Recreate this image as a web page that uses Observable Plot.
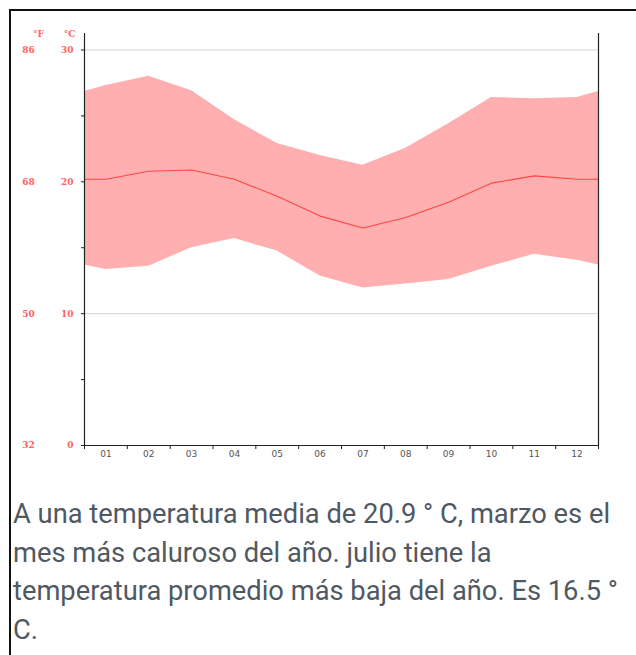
<!DOCTYPE html>
<html>
<head>
<meta charset="utf-8">
<script src="https://cdn.jsdelivr.net/npm/d3@7"></script>
<script src="https://cdn.jsdelivr.net/npm/@observablehq/plot@0.6"></script>
<style>
  html, body { margin: 0; padding: 0; background: #fff; width: 636px; height: 655px; overflow: hidden; }
  #frame { position: absolute; left: 9px; top: 9px; width: 640px; height: 660px;
           border-top: 2px solid #111; border-left: 2px solid #111; }
  #chart { position: absolute; left: 0; top: 0; }
  #caption { position: absolute; left: 13px; top: 495px; width: 620px; margin: 0; white-space: nowrap;
             font-family: Roboto, sans-serif; font-size: 27.3px; line-height: 38.5px; color: #505862; }
</style>
</head>
<body>
<div id="frame"></div>
<div id="chart"></div>
<p id="caption">A una temperatura media de 20.9 ° C, marzo es el<br>mes más caluroso del año. julio tiene la<br>temperatura promedio más baja del año. Es 16.5 °<br>C.</p>
<script>
// Monthly climate values (°C)
const months = [1,2,3,4,5,6,7,8,9,10,11,12];
const monthLabels = ["01","02","03","04","05","06","07","08","09","10","11","12"];
const tMax  = [27.3, 28.0, 26.9, 24.7, 22.9, 22.0, 21.25, 22.55, 24.4, 26.4, 26.3, 26.4];
const tMean = [20.2, 20.8, 20.9, 20.2, 18.9, 17.4, 16.5, 17.3, 18.45, 19.9, 20.45, 20.2];
const tMin  = [13.35, 13.6, 15.0, 15.7, 14.75, 12.85, 11.95, 12.25, 12.6, 13.6, 14.5, 14.05];
const yLabeledTicks = [0, 10, 20, 30];
const yMinorTicks = [5, 15, 25];
const yTop = 31.25;

// Build the series; the curve is extended to the plot edges with the
// Dec/Jan average (wrapping year), as in the source chart.
const edge = (arr) => (arr[0] + arr[11]) / 2;
const rows = [
  {m: 0.5, lo: edge(tMin), hi: edge(tMax), mean: edge(tMean)},
  ...months.map((m, i) => ({m, lo: tMin[i], hi: tMax[i], mean: tMean[i]})),
  {m: 12.5, lo: edge(tMin), hi: edge(tMax), mean: edge(tMean)}
];
const boundaries = months.map(m => m - 0.5).concat([12.5]);

const red = "#ff4545";
const labelRed = "#ff6262";
const serif = "DejaVu Serif, serif";

const chart = Plot.plot({
  width: 636,
  height: 470,
  marginLeft: 84,
  marginRight: 38,
  marginTop: 33,
  marginBottom: 25,
  style: {fontFamily: "DejaVu Sans, sans-serif", fontSize: "9px", background: "transparent"},
  x: {domain: [0.5, 12.5], axis: null},
  y: {domain: [0, yTop], axis: null},
  marks: [
    Plot.ruleY([10, 20, 30], {stroke: "#d4d4d4", strokeWidth: 1}),
    Plot.areaY(rows, {x: "m", y1: "lo", y2: "hi", fill: "#ffafaf", curve: "linear"}),
    Plot.line(rows, {x: "m", y: "mean", stroke: red, strokeWidth: 1.1}),
    // frame lines
    Plot.ruleX([0.5, 12.5], {y1: 0, y2: yTop, stroke: "#222", strokeWidth: 1.2}),
    Plot.ruleY([0], {stroke: "#222", strokeWidth: 1.2}),
    // y axis (°C)
    Plot.axisY({ticks: yLabeledTicks, tickSize: 3, tickPadding: 8, stroke: "#222", label: null,
                fill: labelRed, fontSize: 9, fontWeight: "bold", fontFamily: serif,
                tickFormat: d => String(d)}),
    Plot.axisY({ticks: yMinorTicks, tickSize: 3, stroke: "#222", label: null, tickFormat: () => ""}),
    // y axis (°F)
    Plot.axisY({ticks: yLabeledTicks, tickSize: 0, textAnchor: "middle", dx: -47, label: null,
                fill: labelRed, fontSize: 9, fontWeight: "bold", fontFamily: serif,
                tickFormat: d => String(Math.round(d * 9 / 5 + 32))}),
    // unit headers
    Plot.text(["°C"], {frameAnchor: "top-left", dx: -15, dy: -3, fill: labelRed, fontSize: 9,
                       fontWeight: "bold", fontFamily: serif, textAnchor: "middle"}),
    Plot.text(["°F"], {frameAnchor: "top-left", dx: -46, dy: -3, fill: labelRed, fontSize: 9,
                       fontWeight: "bold", fontFamily: serif, textAnchor: "middle"}),
    // x axis
    Plot.axisX({ticks: boundaries, tickSize: 4, stroke: "#222", label: null, tickFormat: () => ""}),
    Plot.axisX({ticks: months, tickSize: 0, tickPadding: 5, fill: "#555", fontSize: 9, label: null,
                tickFormat: d => monthLabels[d - 1]})
  ]
});
document.getElementById("chart").appendChild(chart);
</script>
</body>
</html>
